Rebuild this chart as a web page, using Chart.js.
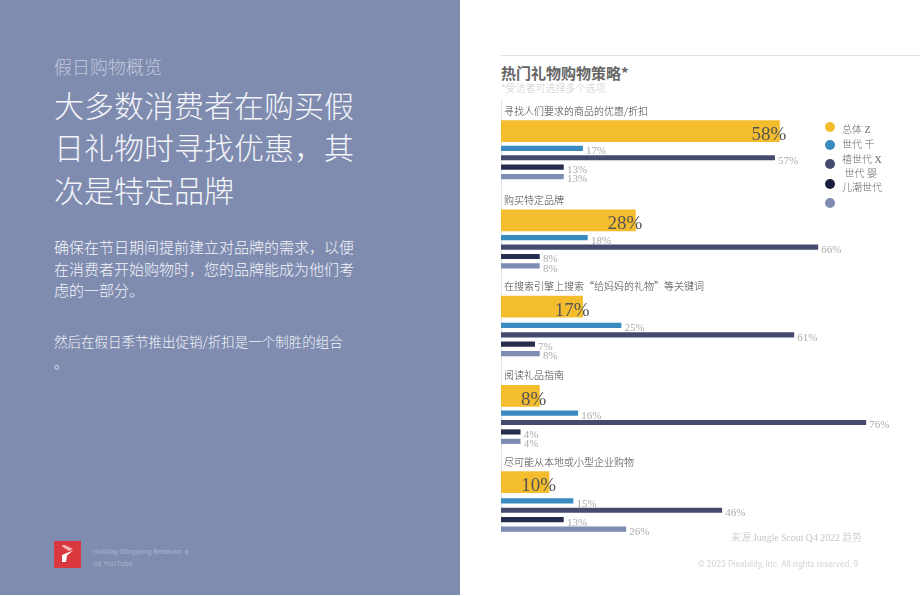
<!DOCTYPE html>
<html>
<head>
<meta charset="utf-8">
<script src="https://cdn.jsdelivr.net/npm/chart.js@4/dist/chart.umd.min.js"></script>
<style>
html, body { margin: 0; padding: 0; background: #fff; }
body { width: 920px; height: 596px; position: relative; overflow: hidden; font-family: "Noto Sans CJK SC", sans-serif; font-weight: 300; }
#panel { position: absolute; left: 0; top: 0; width: 460px; height: 595px; background: #7f8cb0; }
.t { position: absolute; white-space: pre; }
#chartWrap { position: absolute; left: 461px; top: 0; width: 459px; height: 596px; }
#rule { position: absolute; left: 501px; top: 55px; width: 419px; height: 1px; background: #e2e2e2; }
.dot { position: absolute; width: 10px; height: 10px; border-radius: 50%; left: 825px; }
.leg { left: 842px; font: 300 10px "Liberation Serif", "Noto Sans CJK SC"; color: #666; }
</style>
</head>
<body>
<div id="panel"></div>
<div class="t" style="left:54px;top:53px;font-size:18px;line-height:26px;color:#c2c8db">假日购物概览</div>
<div class="t" style="left:54px;top:82.5px;font-size:30px;line-height:42.7px;color:#f4f5f9">大多数消费者在购买假
日礼物时寻找优惠，其
次是特定品牌</div>
<div class="t" style="left:54px;top:236px;font-size:15px;line-height:21.7px;color:#f4f5f9">确保在节日期间提前建立对品牌的需求，以便
在消费者开始购物时，您的品牌能成为他们考
虑的一部分。</div>
<div class="t" style="left:54px;top:331px;font-size:13.5px;line-height:21px;color:#f4f5f9">然后在假日季节推出促销/折扣是一个制胜的组合
。</div>
<svg style="position:absolute;left:54px;top:541px" width="27" height="27" viewBox="0 0 27 27">
  <rect width="27" height="27" fill="#d9393e"/>
  <path d="M7.5 5 L10 3.8 L19 8 L15 10 Z" fill="#f4b6b6"/>
  <path d="M8 14 L19 9.5 L13 14.5 L12 21 L8 21 Z" fill="#fff"/>
</svg>
<div class="t" style="left:93px;top:546px;font:7.5px/12px Roboto,sans-serif;color:#a9b1ca">Holiday Shopping Behavior a
nd YouTube</div>

<div id="rule"></div>
<div class="t" style="left:501px;top:62px;font-size:15px;line-height:21px;font-weight:700;color:#666">热门礼物购物策略*</div>
<div class="t" style="left:501px;top:81px;font-size:10px;line-height:14px;color:#ccc">*受访者可选择多个选项</div>
<div id="chartWrap"><canvas id="chart" width="459" height="596"></canvas></div>
<div class="t" style="left:731px;top:531px;font:300 9.8px/14px 'Liberation Serif','Noto Sans CJK SC';color:#c6c6c6">来源 Jungle Scout Q4 2022 趋势</div>
<div class="t" style="left:698px;top:558px;font:8.5px/12px Roboto,sans-serif;color:#d4d4d4">© 2023 Pixability, Inc. All rights reserved. 9</div>

<script>
var categories = [
    "寻找人们要求的商品的优惠/折扣",
    "购买特定品牌",
    "在搜索引擎上搜索“给妈妈的礼物”等关键词",
    "阅读礼品指南",
    "尽可能从本地或小型企业购物"
];

var seriesNames = ["总体", "Z 世代", "千禧世代", "X 世代", "婴儿潮世代"];
var legendLines = ["总体 Z", "世代 千", "禧世代 X", " 世代 婴", "儿潮世代"];

var overall = [58, 28, 17, 8, 10];
var genZ = [17, 18, 25, 16, 15];
var millennials = [57, 66, 61, 76, 46];
var genX = [13, 8, 7, 4, 13];
var boomers = [13, 8, 8, 4, 26];

var yellow = '#f3bd2e';
var blue = '#3a8bc0';
var navy = '#444b6e';
var dark = '#262c4c';
var periwinkle = '#7e8bb3';
var serif = '"Liberation Serif", "Noto Sans CJK SC"';

// the y axis is cut into thin rows so the bars can sit unevenly inside a category
var groupStart = [0, 57, 112, 169, 224];
var groupGap = [0, 0, 1, 0, 1];
var labelRow = 7;
var seriesRows = [20, 31, 37, 43, 49];
var totalRows = 277;

var rows = [];
for (var r = 0; r < totalRows; r++) {
    rows.push("row" + r);
}

function makeData(values, seriesIndex) {
    return values.map(function (v, i) {
        var row = groupStart[i] + seriesRows[seriesIndex];
        if (seriesIndex > 0) {
            row += groupGap[i];
        }
        return { x: v, y: rows[row] };
    });
}

var allValues = [overall, genZ, millennials, genX, boomers];
var colors = [yellow, blue, navy, dark, periwinkle];

var datasets = allValues.map(function (values, s) {
    return {
        label: seriesNames[s],
        data: makeData(values, s),
        backgroundColor: colors[s],
        borderWidth: 0,
        barThickness: s == 0 ? 21 : 4.5
    };
});

var valueLabels = {
    id: 'valueLabels',
    afterDatasetsDraw: function (chart) {
        var ctx = chart.ctx;
        ctx.save();
        ctx.textBaseline = 'middle';
        chart.data.datasets.forEach(function (ds, s) {
            chart.getDatasetMeta(s).data.forEach(function (bar, i) {
                var text = ds.data[i].x + '%';
                if (s == 0) {
                    ctx.font = '19px ' + serif;
                    ctx.fillStyle = '#555';
                    ctx.textAlign = 'right';
                    ctx.fillText(text, bar.x + 7, bar.y + 4);
                } else {
                    ctx.font = '11px ' + serif;
                    ctx.fillStyle = '#aaa';
                    ctx.textAlign = 'left';
                    ctx.fillText(text, bar.x + 3.5, bar.y + 3);
                }
            });
        });
        ctx.restore();
    }
};

new Chart(document.getElementById("chart").getContext("2d"), {
    type: 'bar',
    data: { labels: rows, datasets: datasets },
    plugins: [valueLabels],
    options: {
        indexAxis: 'y',
        responsive: false,
        animation: false,
        layout: { padding: { left: 34, top: 99, right: 35, bottom: 63 } },
        plugins: { legend: { display: false }, tooltip: { enabled: false } },
        scales: {
            x: {
                min: 0,
                max: 80,
                display: false
            },
            y: {
                grid: { display: false, drawTicks: false },
                border: { display: true, color: '#e4e4e4', width: 1 },
                ticks: {
                    mirror: true,
                    autoSkip: false,
                    padding: 3,
                    color: '#444',
                    font: { size: 10, family: '"Noto Sans CJK SC"', weight: 300 },
                    callback: function (value) {
                        var g = groupStart.indexOf(value - labelRow);
                        return g >= 0 ? categories[g] : '';
                    }
                }
            }
        },
        datasets: { bar: { grouped: false } }
    }
});

// legend dots and text do not share a pitch in the original, so it is plain html
var dotTops = [122, 140, 159, 179, 198];
var lineTops = [121, 136, 151, 165, 179];
colors.forEach(function (c, i) {
    var d = document.createElement('div');
    d.className = 'dot';
    d.style.top = dotTops[i] + 'px';
    d.style.background = i == 3 ? '#1a1f3f' : c;
    document.body.appendChild(d);
    var t = document.createElement('div');
    t.className = 't leg';
    t.style.top = lineTops[i] + 'px';
    t.textContent = legendLines[i];
    document.body.appendChild(t);
});
</script>
</body>
</html>
